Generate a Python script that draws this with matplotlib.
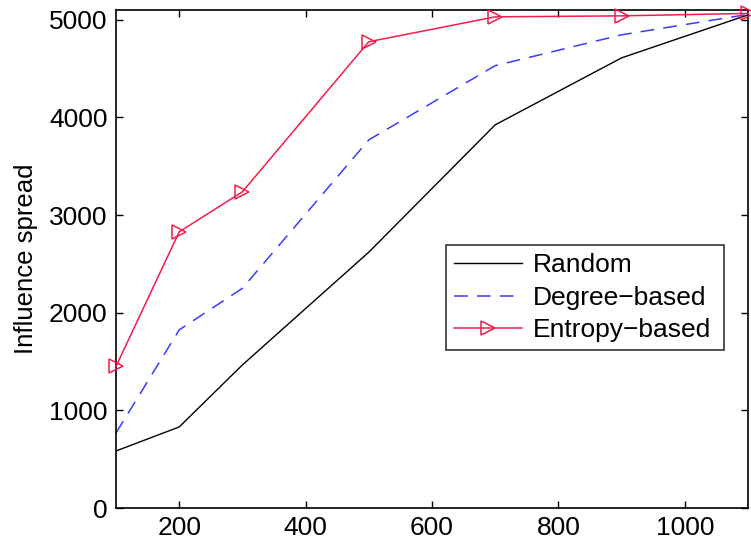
import matplotlib
matplotlib.use("Agg")
import matplotlib.pyplot as plt

plt.rcParams['font.family'] = ['Liberation Sans', 'DejaVu Sans']

seeds = [100, 200, 300, 500, 700, 900, 1100]
random_spread = [584, 830, 1465, 2620, 3924, 4610, 5050]
degree_spread = [768, 1824, 2250, 3770, 4530, 4846, 5055]
entropy_spread = [1450, 2828, 3238, 4775, 5030, 5040, 5065]

xticks = [200, 400, 600, 800, 1000]
yticks = [0, 1000, 2000, 3000, 4000, 5000]

fig = plt.figure(figsize=(7.51, 5.47), dpi=100)
ax = fig.add_axes([116/751, 39/547, 632/751, 498/547])

ax.plot(seeds, random_spread, color='black', lw=1.0, label='Random')
ax.plot(seeds, degree_spread, color='#3a3aff', lw=1.1, ls=(0, (9, 6)), label='Degree\u2212based')
ax.plot(seeds, entropy_spread, color='#f41c4c', lw=1.1, marker='>', markersize=10,
        markerfacecolor='none', markeredgewidth=1.1, label='Entropy\u2212based',
        clip_on=False, zorder=3)

ax.set_xlim(100, 1100)
ax.set_ylim(0, 5100)
ax.set_xticks(xticks)
ax.set_yticks(yticks)
ax.tick_params(direction='in', top=True, right=True, length=5, width=1.0,
               labelsize=19, pad=6)
for s in ax.spines.values():
    s.set_linewidth(1.2)
ax.set_ylabel('Influence spread', fontsize=18.5, labelpad=8)

leg = ax.legend(loc='lower left', bbox_to_anchor=(0.522, 0.317, 0.44, 0.221),
                mode='expand', fontsize=19, frameon=True, fancybox=False,
                edgecolor='black', handlelength=2.6, handletextpad=0.4,
                borderpad=0.3, labelspacing=0.32, borderaxespad=0)
leg.get_frame().set_linewidth(1.2)
leg.set_zorder(5)

fig.savefig('out.png', dpi=100)
